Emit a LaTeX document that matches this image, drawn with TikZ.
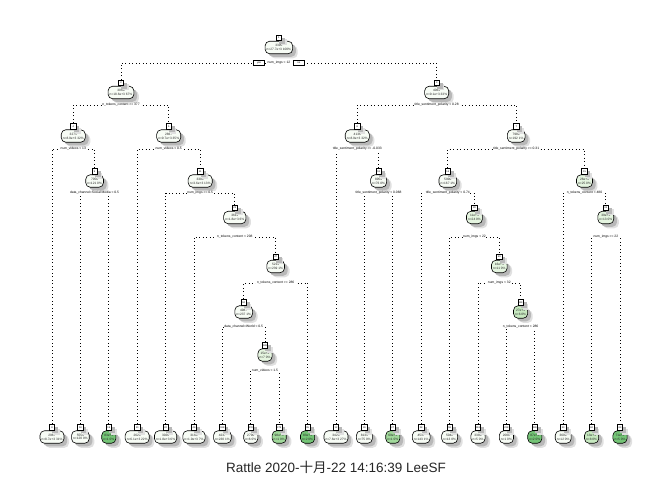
\documentclass[tikz,border=0pt]{standalone}
\usepackage{fontspec}
\setmainfont{Liberation Sans}
\newfontfamily\cjk{Noto Sans CJK SC}
\usetikzlibrary{shadows,calc}
\pgfdeclarelayer{bg}
\pgfsetlayers{bg,main}
\definecolor{g0}{HTML}{F7FCF5}
\definecolor{g1}{HTML}{E5F5E0}
\definecolor{g2}{HTML}{C7E9C0}
\definecolor{g3}{HTML}{A1D99B}
\definecolor{g4}{HTML}{74C476}
\tikzset{
  shadowed/.style={general shadow={shadow xshift=5pt,shadow yshift=-4.5pt,fill=black!12},
                   general shadow={shadow xshift=3.2pt,shadow yshift=-3pt,fill=black!28}},
  tbox/.style={draw=black, line width=0.6pt, rounded corners=4.5pt, fill=#1, shadowed,
               align=center, text=black!85, font=\fontsize{3.2}{3.8}\selectfont,
               inner xsep=1.6pt, inner ysep=1.2pt, minimum width=13pt, minimum height=12.5pt},
  ttab/.style={draw=black, line width=0.6pt, fill=white, shadowed, anchor=south,
               font=\fontsize{2.4}{2.6}\selectfont, inner sep=0.4pt,
               minimum width=5.5pt, minimum height=5.7pt},
  slab/.style={fill=white, inner sep=0.6pt, text=black, font=\fontsize{3.3}{3.6}\selectfont},
  ynbox/.style={draw=black, line width=0.5pt, fill=white, inner sep=0.6pt,
                minimum width=11pt, minimum height=5pt, font=\fontsize{2.6}{3}\selectfont},
  brline/.style={line width=0.9pt, dash pattern=on 0.9pt off 2.6pt, black}
}
\newcommand\TN[7]{%
  \node[tbox=#7] (#1) at (#2,#3) {#5\\#6};
  \node[ttab] (#1t) at (#1.north) {#4};}
\newcommand\SP[6]{%
  \node[slab] (#1) at (#2,#3) {#4};
  \begin{pgfonlayer}{bg}
  \draw[brline] (#5t.north) -- (#5t.north |- #1.center) -- (#6t.north |- #1.center) -- (#6t.north);
  \end{pgfonlayer}}
\begin{document}
\begin{tikzpicture}[x=1pt,y=-1pt]
\useasboundingbox (0,0) rectangle (672,480);
% internal nodes
\TN{n1}{278.9}{47.5}{1}{3395}{n=27.7e+3 100\%}{g0}
\TN{n2}{121}{92.5}{2}{3068}{n=18.6e+3 67\%}{g0}
\TN{n3}{436.7}{92.5}{3}{4063}{n=9.1e+3 33\%}{g0}
\TN{n4}{73.3}{136}{4}{3273}{n=8.9e+3 32\%}{g0}
\TN{n5}{168.7}{136}{5}{2867}{n=9.7e+3 35\%}{g0}
\TN{n6}{357.3}{136}{6}{4136}{n=8.9e+3 32\%}{g0}
\TN{n7}{516.2}{136}{7}{7980}{n=192 1\%}{g0}
\TN{n9}{94.6}{181}{9}{7056}{n=121 0\%}{g0}
\TN{n11}{200.2}{181}{11}{3304}{n=3.6e+3 13\%}{g0}
\TN{n13}{378.6}{181}{13}{8953}{n=76 0\%}{g0}
\TN{n14}{447.8}{181}{14}{5996}{n=167 1\%}{g0}
\TN{n15}{584.5}{181}{15}{26e+3}{n=25 0\%}{g1}
\TN{n23}{234.8}{217.5}{23}{3611}{n=1.8e+3 6\%}{g0}
\TN{n29}{474.45}{217.5}{29}{11e+3}{n=24 0\%}{g1}
\TN{n31}{605.8}{217.5}{31}{39e+3}{n=13 0\%}{g1}
\TN{n47}{275.65}{266.5}{47}{5213}{n=239 1\%}{g0}
\TN{n59}{499.3}{266.5}{59}{16e+3}{n=11 0\%}{g1}
\TN{n94}{243.7}{312}{94}{4987}{n=237 1\%}{g0}
\TN{n119}{520.6}{312}{119}{27e+3}{n=6 0\%}{g2}
\TN{n189}{265}{355}{189}{15e+3}{n=7 0\%}{g1}
% leaves
\TN{n8}{52}{437}{8}{2967}{n=8.7e+3 31\%}{g0}
\TN{n18}{80.4}{437}{18}{5554}{n=120 0\%}{g0}
\TN{n19}{108.8}{437}{19}{83e+3}{n=1 0\%}{g4}
\TN{n10}{137.2}{437}{10}{2626}{n=6.1e+3 22\%}{g0}
\TN{n22}{165.6}{437}{22}{3026}{n=1.8e+3 6\%}{g0}
\TN{n46}{194}{437}{46}{3164}{n=1.9e+3 7\%}{g0}
\TN{n188}{222.4}{437}{188}{4237}{n=230 1\%}{g0}
\TN{n378}{250.8}{437}{378}{2790}{n=6 0\%}{g0}
\TN{n379}{279.2}{437}{379}{98e+3}{n=1 0\%}{g3}
\TN{n95}{307.6}{437}{95}{83e+3}{n=2 0\%}{g4}
\TN{n12}{336}{437}{12}{3426}{n=7.6e+3 27\%}{g0}
\TN{n26}{364.4}{437}{26}{8133}{n=75 0\%}{g0}
\TN{n27}{392.8}{437}{27}{69e+3}{n=1 0\%}{g3}
\TN{n28}{421.2}{437}{28}{4537}{n=143 1\%}{g0}
\TN{n58}{449.6}{437}{58}{5042}{n=13 0\%}{g0}
\TN{n118}{478}{437}{118}{3380}{n=5 0\%}{g0}
\TN{n238}{506.4}{437}{238}{2000}{n=1 0\%}{g0}
\TN{n239}{534.8}{437}{239}{87e+3}{n=2 0\%}{g4}
\TN{n30}{563.2}{437}{30}{3600}{n=12 0\%}{g0}
\TN{n62}{591.6}{437}{62}{13e+3}{n=8 0\%}{g2}
\TN{n63}{620}{437}{63}{71e+3}{n=5 0\%}{g4}
% splits
\SP{s1}{278.9}{63}{num\_imgs < 12}{n2}{n3}
\node[ynbox, anchor=east] (yes) at ($(s1.west)+(-2,0)$) {yes};
\node[ynbox, anchor=west] (no) at ($(s1.east)+(2,0)$) {no};
\SP{s2}{121}{105}{n\_tokens\_content >= 377}{n4}{n5}
\SP{s3}{436.7}{105}{title\_sentiment\_polarity < 0.28}{n6}{n7}
\SP{s4}{73.3}{149}{num\_videos < 13}{n8}{n9}
\SP{s5}{168.7}{149}{num\_videos < 0.5}{n10}{n11}
\SP{s6}{357.3}{149}{title\_sentiment\_polarity >= -0.033}{n12}{n13}
\SP{s7}{516.2}{149}{title\_sentiment\_polarity >= 0.31}{n14}{n15}
\SP{s9}{94.6}{193}{data\_channel=Social Media < 0.5}{n18}{n19}
\SP{s11}{200.2}{193}{num\_imgs >= 0.5}{n22}{n23}
\SP{s13}{378.6}{193}{title\_sentiment\_polarity < 0.068}{n26}{n27}
\SP{s14}{447.8}{193}{title\_sentiment\_polarity < 0.74}{n28}{n29}
\SP{s15}{584.5}{193}{n\_tokens\_content < 480}{n30}{n31}
\SP{s23}{234.8}{237}{n\_tokens\_content < 208}{n46}{n47}
\SP{s29}{474.45}{237}{num\_imgs < 22}{n58}{n59}
\SP{s31}{605.8}{237}{num\_imgs >= 22}{n62}{n63}
\SP{s47}{275.65}{283}{n\_tokens\_content >= 286}{n94}{n95}
\SP{s59}{499.3}{283}{num\_imgs < 32}{n118}{n119}
\SP{s94}{243.7}{327}{data\_channel=World < 0.5}{n188}{n189}
\SP{s119}{520.6}{327}{n\_tokens\_content < 286}{n238}{n239}
\SP{s189}{265}{371}{num\_videos < 1.5}{n378}{n379}
% caption
\node[font=\fontsize{13.5}{16}\selectfont, text=black!85] (cap) at (336,467) {Rattle 2020-{\cjk 十月}-22 14:16:39 LeeSF};
\end{tikzpicture}
\end{document}
